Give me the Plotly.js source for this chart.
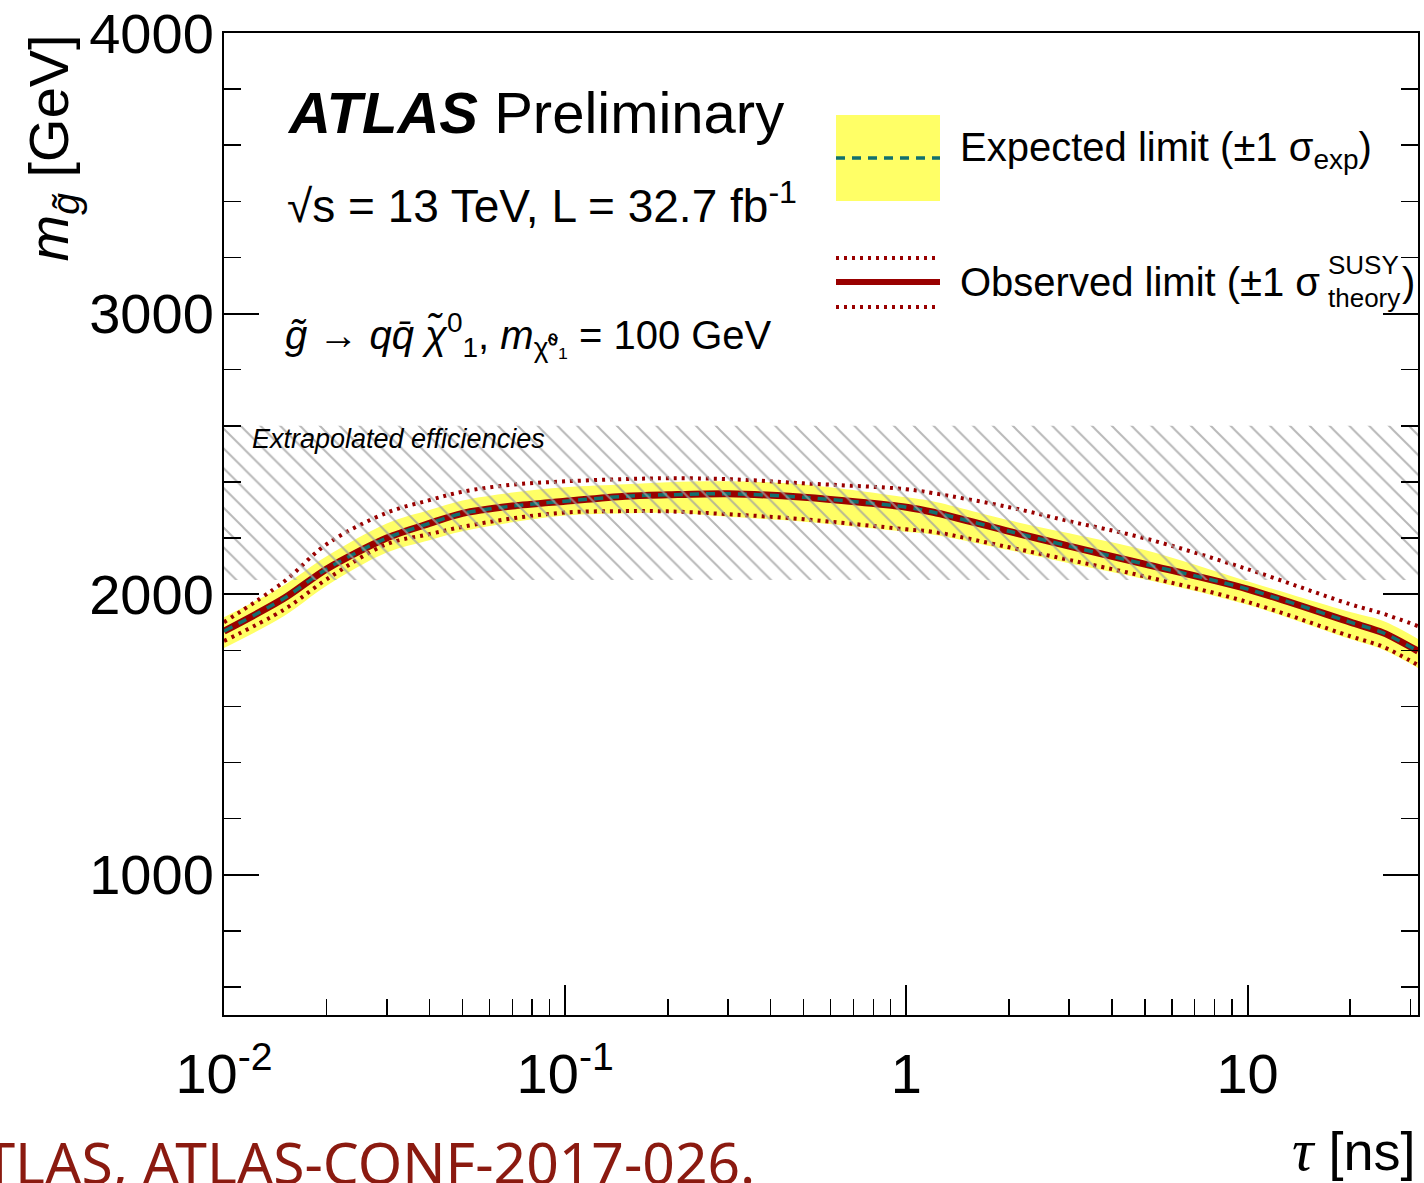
<!DOCTYPE html>
<html>
<head>
<meta charset="utf-8">
<script src="https://cdn.plot.ly/plotly-3.0.1.min.js"></script>
<style>html,body{margin:0;padding:0;background:#fff;}#chart{width:1424px;height:1183px;}</style>
</head>
<body>
<div id="chart"></div>
<script>
// ---- data ----
const tau        = [0.01, 0.015, 0.02, 0.03, 0.04, 0.05, 0.07, 0.1, 0.15, 0.2, 0.3, 0.5, 1, 1.2, 2, 3, 5, 10, 20, 25, 31.6];
const observed   = [1868, 1985, 2090, 2200, 2252, 2288, 2314, 2331, 2349, 2354, 2358, 2345, 2310, 2292, 2224, 2171, 2107, 2018, 1900, 1862, 1797];
const expected   = [1868, 1985, 2090, 2200, 2252, 2288, 2314, 2331, 2349, 2354, 2358, 2345, 2310, 2292, 2224, 2171, 2107, 2018, 1900, 1862, 1797];
const expUp      = [1918, 2032, 2135, 2252, 2300, 2334, 2362, 2381, 2392, 2399, 2402, 2391, 2345, 2330, 2263, 2217, 2157, 2046, 1936, 1904, 1840];
const expDown    = [1808, 1922, 2030, 2148, 2192, 2224, 2256, 2280, 2288, 2290, 2276, 2258, 2222, 2212, 2157, 2110, 2053, 1962, 1840, 1802, 1737];
const theoryUp   = [1900, 2045, 2178, 2290, 2335, 2365, 2390, 2402, 2410, 2413, 2410, 2395, 2374, 2360, 2310, 2260, 2199, 2089, 1964, 1930, 1886];
const theoryDown = [1833, 1945, 2053, 2178, 2214, 2240, 2270, 2291, 2296, 2295, 2285, 2267, 2231, 2222, 2167, 2122, 2063, 1972, 1850, 1812, 1747];
const hatchTau  = [0.01, 31.6];
const hatchLow  = 2050;
const hatchHigh = 2600;
const xTickVals = [0.01, 0.1, 1, 10];
const xTickText = ['10<sup>-2</sup>', '10<sup>-1</sup>', '1', '10'];
const yTickVals = [1000, 2000, 3000, 4000];
const yTickText = ['1000', '2000', '3000', '4000'];

// ---- styling ----
const RED = '#990000', TEAL = '#11706e', YELLOW = '#ffff66';
const FONT = 'Liberation Sans, Arial, sans-serif';

// paper-coordinate helpers for the fixed plot frame (224..1418 x, 33..1015 y)
const PX = p => (p - 224) / 1194;
const PY = p => (1015 - p) / 982;

const minorX = [];
[0.01, 0.1, 1, 10].forEach(d => { for (let k = 2; k <= 9; k++) { const v = d * k; if (v <= 31.6) minorX.push(v); } });

const SM = 1.0;
const traces = [
  {x: tau, y: expDown, mode: 'lines', line: {width: 0, shape: 'spline', smoothing: SM}, hoverinfo: 'skip', showlegend: false},
  {x: tau, y: expUp, mode: 'lines', line: {width: 0, shape: 'spline', smoothing: SM}, fill: 'tonexty', fillcolor: YELLOW, hoverinfo: 'skip', showlegend: false},
  {x: tau, y: theoryUp, mode: 'lines', line: {color: RED, width: 4, dash: '3px,5px', shape: 'spline', smoothing: SM}, showlegend: false},
  {x: tau, y: theoryDown, mode: 'lines', line: {color: RED, width: 4, dash: '3px,5px', shape: 'spline', smoothing: SM}, showlegend: false},
  {x: tau, y: observed, mode: 'lines', line: {color: RED, width: 7, shape: 'spline', smoothing: 0.8}, showlegend: false},
  {x: tau, y: expected, mode: 'lines', line: {color: TEAL, width: 3.5, dash: '9px,7px', shape: 'spline', smoothing: 0.8}, showlegend: false},
  {x: [hatchTau[0], hatchTau[1], hatchTau[1], hatchTau[0]],
   y: [hatchLow, hatchLow, hatchHigh, hatchHigh],
   mode: 'lines', line: {width: 0}, fill: 'toself', fillcolor: 'rgba(0,0,0,0)',
   fillpattern: {shape: '\\', size: 14, solidity: 0.14, fgcolor: 'rgb(160,160,160)', fgopacity: 0.75, bgcolor: 'rgba(0,0,0,0)'},
   hoverinfo: 'skip', showlegend: false}
];

const ann = (x, y, text, size, opts = {}) => Object.assign({
  xref: 'paper', yref: 'paper', x: PX(x), y: PY(y), text: text, showarrow: false,
  xanchor: 'left', yanchor: 'middle', font: {family: FONT, size: size, color: 'black'}
}, opts);

const annotations = [
  ann(285, 113, '<b><i>ATLAS</i></b> Preliminary', 58),
  ann(285, 203, '√s = 13 TeV, L = 32.7 fb<sup>-1</sup>', 46),
  ann(283, 335, '<i>g̃</i> → <i>qq̄ χ̃</i><sup>0</sup><sub>1</sub>, <i>m</i><sub>χ̃⁰₁</sub> = 100 GeV', 40),
  ann(250, 439, '<i>Extrapolated efficiencies</i>', 27),
  ann(958, 150, 'Expected limit (±1 σ<sub>exp</sub>)', 40),
  ann(958, 282, 'Observed limit (±1 σ', 40),
  ann(1326, 265, 'SUSY', 26),
  ann(1326, 298, 'theory', 26),
  ann(1400, 282, ')', 40),
  // y axis title
  {xref: 'paper', yref: 'paper', x: PX(52), y: 1, xanchor: 'center', yanchor: 'top', textangle: -90,
   text: '<i>m</i><sub><i>g̃</i></sub> [GeV]', showarrow: false, font: {family: FONT, size: 56, color: 'black'}},
  // x axis title
  {xref: 'paper', yref: 'paper', x: 1, y: PY(1150), xanchor: 'right', yanchor: 'middle',
   text: '<span style="font-family:Liberation Serif;font-size:60px"><i>τ</i></span> [ns]', showarrow: false,
   font: {family: FONT, size: 54, color: 'black'}},
  // citation (cropped at the left and bottom edges in the reference)
  {xref: 'paper', yref: 'paper', x: PX(757), y: PY(1121), xanchor: 'right', yanchor: 'top',
   text: 'ATLAS, ATLAS-CONF-2017-026.', showarrow: false,
   font: {family: 'Noto Sans, sans-serif', size: 57, color: '#8b1a10'}}
];

const shapes = [
  {type: 'rect', xref: 'paper', yref: 'paper', x0: PX(836), x1: PX(940), y0: PY(201), y1: PY(115), fillcolor: YELLOW, line: {width: 0}},
  {type: 'line', xref: 'paper', yref: 'paper', x0: PX(836), x1: PX(940), y0: PY(158), y1: PY(158), line: {color: TEAL, width: 3.5, dash: '9px,7px'}},
  {type: 'line', xref: 'paper', yref: 'paper', x0: PX(836), x1: PX(940), y0: PY(258), y1: PY(258), line: {color: RED, width: 4, dash: '3px,5px'}},
  {type: 'line', xref: 'paper', yref: 'paper', x0: PX(836), x1: PX(940), y0: PY(282), y1: PY(282), line: {color: RED, width: 6}},
  {type: 'line', xref: 'paper', yref: 'paper', x0: PX(836), x1: PX(940), y0: PY(307), y1: PY(307), line: {color: RED, width: 4, dash: '3px,5px'}}
];

const layout = {
  width: 1424, height: 1183,
  margin: {l: 224, r: 6, t: 33, b: 168, pad: 0},
  paper_bgcolor: 'white', plot_bgcolor: 'white',
  showlegend: false,
  xaxis: {
    type: 'log', range: [-2, Math.log10(31.6)],
    tickmode: 'array', tickvals: xTickVals, ticktext: xTickText,
    ticks: 'inside', ticklen: 30, tickwidth: 2, tickcolor: 'black',
    showline: true, linewidth: 2, linecolor: 'black', mirror: true,
    showgrid: false, zeroline: false,
    tickfont: {family: FONT, size: 56, color: 'black'},
    ticklabelstandoff: 9,
    minor: {tickmode: 'array', tickvals: minorX, ticks: 'inside', ticklen: 16, tickwidth: 1.5, tickcolor: 'black', showgrid: false}
  },
  yaxis: {
    range: [500, 4000],
    tickmode: 'array', tickvals: yTickVals, ticktext: yTickText,
    ticks: 'inside', ticklen: 35, tickwidth: 2, tickcolor: 'black',
    showline: true, linewidth: 2, linecolor: 'black', mirror: 'allticks',
    showgrid: false, zeroline: false,
    tickfont: {family: FONT, size: 56, color: 'black'},
    ticklabelstandoff: -3,
    minor: {dtick: 200, tick0: 0, ticks: 'inside', ticklen: 17, tickwidth: 1.5, tickcolor: 'black', showgrid: false}
  },
  annotations: annotations,
  shapes: shapes
};

Plotly.newPlot('chart', traces, layout, {displayModeBar: false, staticPlot: true});
</script>
</body>
</html>
